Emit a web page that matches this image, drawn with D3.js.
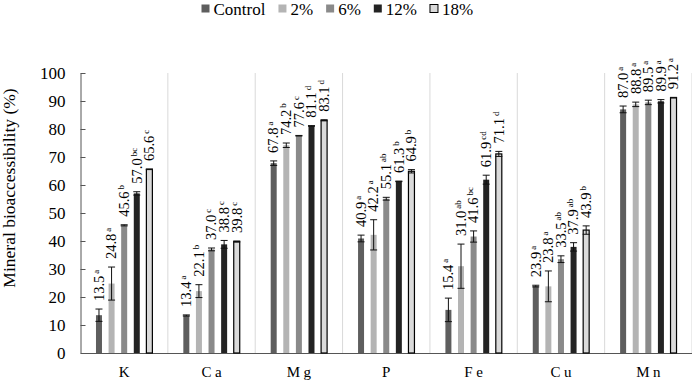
<!DOCTYPE html>
<html><head>
<script src="https://cdn.jsdelivr.net/npm/d3@7"></script>
</head><body style="margin:0;padding:0;background:#fff">
<svg id="chart" width="692" height="383" style="display:block"></svg>
<script>
const categories = ["K", "Ca", "Mg", "P", "Fe", "Cu", "Mn"];
const series = ["Control", "2%", "6%", "12%", "18%"];
const valControl = [13.5, 13.4, 67.8, 40.9, 15.4, 23.9, 87.0];
const val2 = [24.8, 22.1, 74.2, 42.2, 31.0, 23.8, 88.8];
const val6 = [45.6, 37.0, 77.6, 55.1, 41.6, 33.5, 89.5];
const val12 = [57.0, 38.8, 81.1, 61.3, 61.9, 37.9, 89.9];
const val18 = [65.6, 39.8, 83.1, 64.9, 71.1, 43.9, 91.2];
const errControl = [2.2, 0.2, 0.8, 1.2, 4.2, 0.3, 1.2];
const err2 = [5.9, 2.3, 0.8, 5.4, 7.9, 5.5, 0.8];
const err6 = [0.2, 0.5, 0.1, 0.5, 2.0, 1.2, 0.8];
const err12 = [0.6, 1.4, 0.1, 0.1, 1.6, 1.5, 0.6];
const err18 = [0.1, 0.2, 0.2, 0.6, 0.9, 1.5, 0.1];
const letControl = ["a", "a", "a", "a", "a", "a", "a"];
const let2 = ["a", "b", "b", "a", "ab", "a", "a"];
const let6 = ["b", "c", "c", "ab", "bc", "ab", "a"];
const let12 = ["bc", "c", "d", "b", "cd", "ab", "a"];
const let18 = ["c", "c", "d", "b", "d", "b", "a"];
const yTicks = [0, 10, 20, 30, 40, 50, 60, 70, 80, 90, 100];
const colors = ["#5e5e5e", "#b4b4b4", "#8a8a8a", "#232323", "#dadada"];

const vals = [valControl, val2, val6, val12, val18];
const errs = [errControl, err2, err6, err12, err18];
const lets = [letControl, let2, let6, let12, let18];
const FF = '"Liberation Serif"';

// warm up the font
const ctx = document.createElement("canvas").getContext("2d");
ctx.font = '17px "Liberation Serif", monospace';
ctx.measureText("Mineral bioaccessibility 0123456789");

const svg = d3.select("#chart");
const m = {left: 80.5, right: 692, top: 73, bottom: 353};

const x0 = d3.scaleBand().domain(categories).range([m.left, m.right]).padding(0);
const bw = x0.bandwidth();
const x1 = d3.scaleBand().domain(series).range([bw/2 - 28.2, bw/2 + 28.2]).paddingInner(0.524).paddingOuter(0);
const y = d3.scaleLinear().domain([0, 100]).range([m.bottom, m.top]);

// vertical grid lines between categories
svg.append("g").selectAll("line").data(categories).join("line")
  .attr("x1", (d, i) => m.left + bw * (i + 1)).attr("x2", (d, i) => m.left + bw * (i + 1))
  .attr("y1", y(100)).attr("y2", y(0))
  .attr("stroke", "#d9d9d9").attr("stroke-width", 1);

// y axis
const yAxis = d3.axisLeft(y).tickValues(yTicks).tickSizeInner(-5).tickSizeOuter(0).tickPadding(15);
const gy = svg.append("g").attr("transform", `translate(${m.left},0)`).call(yAxis);
gy.attr("font-family", null).attr("font-size", null);
gy.select(".domain").attr("stroke", "#555");
gy.selectAll(".tick line").attr("stroke", "#555");
gy.selectAll(".tick text").attr("font-family", FF).attr("font-size", 17).attr("fill", "#000");

// x axis
const xAxis = d3.axisBottom(x0).tickSize(0).tickPadding(0);
const gx = svg.append("g").attr("transform", `translate(0,${m.bottom})`).call(xAxis);
gx.attr("font-family", null).attr("font-size", null);
gx.select(".domain").attr("stroke", "#555").attr("stroke-width", 1.2);
gx.selectAll(".tick text").attr("font-family", FF).attr("font-size", 15).attr("fill", "#000")
  .attr("letter-spacing", "3.5px").attr("dx", "1.75px").attr("y", 24).attr("dy", 0);

// bars
const flat = [];
series.forEach((s, si) => categories.forEach((c, ci) => flat.push({s, si, c, v: vals[si][ci], e: errs[si][ci], l: lets[si][ci]})));

const g = svg.append("g");
g.selectAll("rect").data(flat).join("rect")
  .attr("x", d => x0(d.c) + x1(d.s))
  .attr("width", x1.bandwidth())
  .attr("y", d => y(d.v))
  .attr("height", d => y(0) - y(d.v))
  .attr("fill", d => colors[d.si])
  .attr("stroke", d => d.si === 4 ? "#000" : "none")
  .attr("stroke-width", 1.2);

// error bars
const eb = g.append("g").attr("stroke", "#111").attr("stroke-width", 1);
flat.forEach(d => {
  const cx = x0(d.c) + x1(d.s) + x1.bandwidth() / 2;
  const hw = 3.5;
  eb.append("line").attr("x1", cx).attr("x2", cx).attr("y1", y(d.v + d.e)).attr("y2", y(d.v - d.e));
  eb.append("line").attr("x1", cx - hw).attr("x2", cx + hw).attr("y1", y(d.v + d.e)).attr("y2", y(d.v + d.e));
  eb.append("line").attr("x1", cx - hw).attr("x2", cx + hw).attr("y1", y(d.v - d.e)).attr("y2", y(d.v - d.e));
});

// value labels
const lab = g.append("g");
flat.forEach(d => {
  const cx = x0(d.c) + x1(d.s) + x1.bandwidth() / 2;
  const t = lab.append("text")
    .attr("transform", `translate(${cx + 4.8},${y(d.v + d.e) - 8}) rotate(-90)`)
    .attr("font-family", FF).attr("font-size", 14.5).attr("fill", "#000");
  t.append("tspan").text(d.v.toFixed(1));
  t.append("tspan").text(d.l).attr("font-size", 9).attr("dx", 2).attr("dy", -5);
});

// y axis title
svg.append("text").attr("transform", "translate(15,188) rotate(-90)")
  .attr("font-family", FF).attr("text-anchor", "middle").attr("font-size", 17.5).attr("fill", "#000")
  .text("Mineral bioaccessibility (%)");

// legend
const leg = svg.append("g");
let lx = 201.5;
series.forEach((s, i) => {
  leg.append("rect").attr("x", lx).attr("y", 4.5).attr("width", 8).attr("height", 8)
    .attr("fill", colors[i]).attr("stroke", i === 4 ? "#000" : "none").attr("stroke-width", 1);
  const t = leg.append("text").attr("x", lx + 12).attr("y", 14.5).attr("font-family", FF)
    .attr("font-size", 17).attr("fill", "#000").text(s);
  lx += 12 + t.node().getComputedTextLength() + 13;
});
</script>
</body></html>
